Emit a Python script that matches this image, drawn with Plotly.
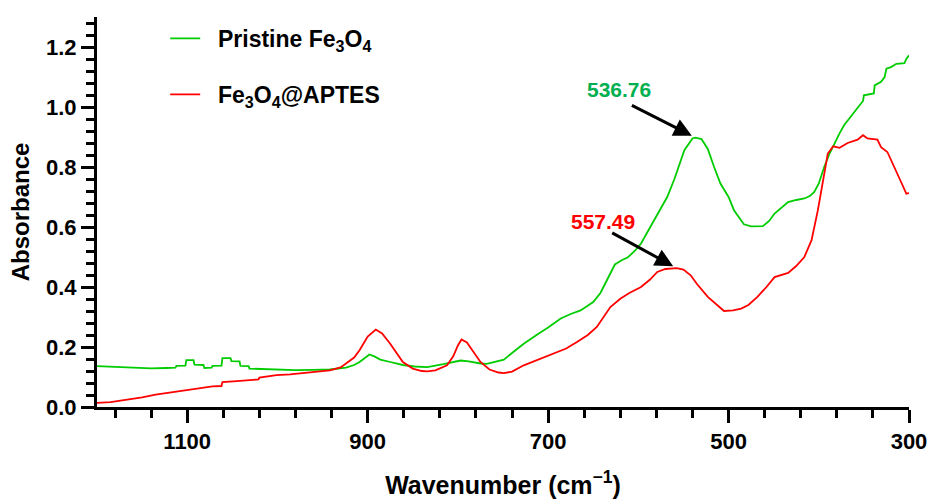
import plotly.graph_objects as go

# FTIR spectra, wavenumber (cm-1) vs absorbance
pristine_wn = [1200, 1180, 1160, 1140, 1123, 1113, 1112, 1102, 1101, 1093, 1092, 1082, 1081,
               1073, 1072, 1062, 1061, 1052, 1051, 1042, 1041, 1032, 1031, 1020, 1000, 980,
               960, 942, 924, 915, 909, 903, 898, 892, 886, 875, 861, 848, 834, 816, 805, 797,
               788, 775, 768, 760, 749, 740, 727, 712, 700, 686, 675, 664, 650, 642, 635, 626,
               618, 612, 604, 597, 583, 568, 560, 549, 540, 536.76, 530, 523, 516, 509, 500,
               494, 483, 475, 462, 455, 449, 440, 434, 425, 416, 410, 405, 400, 394, 388, 383,
               377, 372, 365, 360, 355, 351, 350, 342, 339, 338, 331, 327, 325, 320, 314, 305,
               303, 300]
pristine_abs = [0.136, 0.133, 0.130, 0.129, 0.130, 0.131, 0.137, 0.138, 0.156, 0.156, 0.141, 0.140, 0.130,
                0.131, 0.137, 0.138, 0.163, 0.163, 0.153, 0.152, 0.137, 0.136, 0.128, 0.127, 0.124, 0.123,
                0.124, 0.125, 0.131, 0.140, 0.150, 0.163, 0.175, 0.168, 0.158, 0.150, 0.140, 0.135, 0.133, 0.143, 0.150, 0.155,
                0.152, 0.145, 0.144, 0.149, 0.158, 0.180, 0.211, 0.242, 0.265, 0.295, 0.310, 0.322, 0.350, 0.380, 0.420, 0.475,
                0.490, 0.498, 0.520, 0.545, 0.620, 0.700, 0.760, 0.856, 0.895, 0.898, 0.893, 0.860, 0.800, 0.745, 0.700,
                0.656, 0.609, 0.602, 0.603, 0.620, 0.645, 0.668, 0.683, 0.690, 0.695, 0.703, 0.717, 0.745, 0.800, 0.845, 0.878,
                0.912, 0.939, 0.965, 0.983, 1.005, 1.020, 1.039, 1.042, 1.045, 1.072, 1.084, 1.100, 1.128, 1.133, 1.144, 1.146,
                1.160, 1.172]

aptes_wn = [1200, 1185, 1172, 1160, 1150, 1135, 1120, 1101, 1085, 1072, 1062, 1061, 1045, 1035,
            1021, 1020, 1001, 986, 970, 955, 942, 930, 924, 915, 909, 900, 891, 884, 875, 868,
            861, 850, 840, 834, 825, 812, 805, 800, 796, 790, 782, 775, 765, 755, 749, 740, 727,
            710, 694, 680, 668, 656, 646, 638, 631, 620, 610, 597, 587, 579, 570, 557.49, 550,
            542, 535, 523, 513, 505, 495, 486, 478, 468, 458, 449, 434, 425, 416, 408, 401, 397,
            393, 390, 384, 377, 368, 357, 351, 346, 335, 331, 324, 316, 308, 303, 300]
aptes_abs = [0.014, 0.016, 0.022, 0.027, 0.032, 0.041, 0.048, 0.058, 0.063, 0.069, 0.070, 0.083, 0.086, 0.089,
             0.092, 0.098, 0.106, 0.109, 0.113, 0.117, 0.122, 0.132, 0.144, 0.165, 0.189, 0.235, 0.258, 0.245, 0.211, 0.180,
             0.150, 0.128, 0.120, 0.119, 0.122, 0.139, 0.170, 0.205, 0.225, 0.215, 0.180, 0.150, 0.125, 0.115, 0.113, 0.118, 0.139,
             0.160, 0.178, 0.195, 0.217, 0.240, 0.267, 0.300, 0.333, 0.361, 0.380, 0.400, 0.425, 0.450, 0.460, 0.463, 0.458,
             0.439, 0.410, 0.367, 0.340, 0.320, 0.322, 0.328, 0.340, 0.367, 0.400, 0.433, 0.447, 0.470, 0.500, 0.556, 0.656, 0.722,
             0.790, 0.845, 0.869, 0.864, 0.880, 0.891, 0.906, 0.895, 0.891, 0.866, 0.850, 0.800, 0.745, 0.711, 0.713]

x_tick_vals = [1100, 900, 700, 500, 300]
y_tick_vals = [0.0, 0.2, 0.4, 0.6, 0.8, 1.0, 1.2]

pristine_peak = (536.76, 0.898)
aptes_peak = (557.49, 0.463)

FONT = "Liberation Sans, Arial, sans-serif"
GREEN = "#00CC00"
RED = "#FF0000"

fig = go.Figure()
fig.add_trace(go.Scatter(
    x=pristine_wn, y=pristine_abs, mode="lines",
    name="\u00a0\u00a0Pristine Fe<sub>3</sub>O<sub>4</sub>",
    line=dict(color=GREEN, width=1.8), legendgroup="a",
))
fig.add_trace(go.Scatter(
    x=aptes_wn, y=aptes_abs, mode="lines",
    name="\u00a0\u00a0Fe<sub>3</sub>O<sub>4</sub>@APTES",
    line=dict(color=RED, width=1.8), legendgroup="b",
))

# peak markers: arrow pointing to each band maximum, label above-left
for (wn, ab), color, ax, ay, lx, ly in [
    (pristine_peak, "#00B050", -65, -33, -76, -48),
    (aptes_peak, RED, -66, -36, -74, -47),
]:
    fig.add_annotation(
        x=wn, y=ab, xref="x", yref="y", text="", showarrow=True,
        ax=ax, ay=ay, arrowhead=2, arrowsize=1.2, arrowwidth=3,
        arrowcolor="black", standoff=4,
    )
    fig.add_annotation(
        x=wn, y=ab, xref="x", yref="y", text=f"{wn:.2f}", showarrow=False,
        xshift=lx, yshift=-ly, font=dict(family=FONT, size=21, color=color, weight="bold"),
    )

axis_common = dict(
    showline=True, linewidth=3, linecolor="black", mirror=False,
    ticks="outside", ticklen=13, tickwidth=3, tickcolor="black",
    showgrid=False, zeroline=False, automargin=False,
    ticklabeloverflow="allow",
    tickfont=dict(family=FONT, size=22, color="black", weight="bold"),
)

fig.update_xaxes(
    range=[1200, 300], tickvals=x_tick_vals,
    minor=dict(ticks="outside", ticklen=8, tickwidth=3, tickcolor="black", dtick=40, tick0=300),
    title=dict(text="Wavenumber (cm<sup>\u22121</sup>)",
               font=dict(family=FONT, size=25, color="black", weight="bold"), standoff=28),
    **axis_common,
)
fig.update_yaxes(
    range=[0, 1.3], tickvals=y_tick_vals, tickformat=".1f",
    minor=dict(ticks="outside", ticklen=8, tickwidth=3, tickcolor="black", dtick=0.04, tick0=0),
    title=dict(text="Absorbance",
               font=dict(family=FONT, size=24, color="black", weight="bold"), standoff=10),
    **axis_common,
)

fig.update_layout(
    width=931, height=499,
    margin=dict(l=97, r=22, t=17, b=92),
    plot_bgcolor="white", paper_bgcolor="white",
    showlegend=True,
    legend=dict(
        x=0.084, y=1.0, xanchor="left", yanchor="top",
        bgcolor="rgba(0,0,0,0)", tracegroupgap=23,
        font=dict(family=FONT, size=23, color="black", weight="bold"),
    ),
)

fig.write_html("out.html")
